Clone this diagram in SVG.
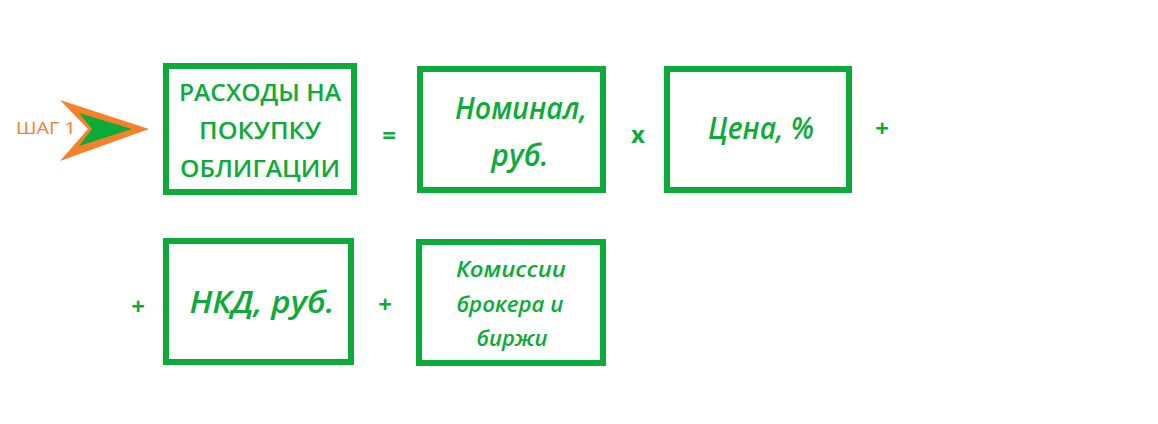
<svg xmlns="http://www.w3.org/2000/svg" width="1158" height="424" viewBox="0 0 1158 424">
<style>
.box{fill:#fff;stroke:#0DAB3A;stroke-width:6}
.t{font-family:"Open Sans","Noto Sans",sans-serif;fill:#0DAB3A;font-weight:600}
.cap{font-size:24px;text-anchor:middle}
.hw{font-style:italic;text-anchor:middle}
.op{font-family:"Open Sans","Noto Sans",sans-serif;fill:#0DAB3A;font-weight:700;font-size:24px;text-anchor:middle}
</style>
<rect width="1158" height="424" fill="#fff"/>
<g id="step">
<polygon points="60,100 149,129 60,161 88,129" fill="#F5812A"/>
<polygon points="79,113 132,129 79,146 92,129" fill="#0DAB3A"/>
<text x="46" y="134" font-family="Open Sans, Noto Sans, sans-serif" font-size="17" fill="#F5812A" text-anchor="middle" textLength="60" lengthAdjust="spacingAndGlyphs">ШАГ 1</text>
</g>
<g id="n1">
<rect class="box" x="166" y="66" width="188" height="126"/>
<text class="t cap" x="260" y="101" textLength="162" lengthAdjust="spacingAndGlyphs">РАСХОДЫ НА</text>
<text class="t cap" x="260" y="139" textLength="122" lengthAdjust="spacingAndGlyphs">ПОКУПКУ</text>
<text class="t cap" x="260" y="177" textLength="160" lengthAdjust="spacingAndGlyphs">ОБЛИГАЦИИ</text>
</g>
<g id="ops">
<text class="op" x="389" y="144">=</text>
<text class="op" x="638" y="143">x</text>
<text class="op" x="882" y="137">+</text>
<text class="op" x="138" y="315">+</text>
<text class="op" x="385" y="313">+</text>
</g>
<g id="n2">
<rect class="box" x="420" y="69" width="183" height="121"/>
<text class="t hw" x="521" y="119" font-size="30" textLength="132" lengthAdjust="spacingAndGlyphs">Номинал,</text>
<text class="t hw" x="520" y="166" font-size="30">руб.</text>
</g>
<g id="n3">
<rect class="box" x="667" y="69" width="182" height="121"/>
<text class="t hw" x="761" y="139" font-size="30" textLength="106" lengthAdjust="spacingAndGlyphs">Цена, %</text>
</g>
<g id="n4">
<rect class="box" x="166" y="241" width="185" height="121"/>
<text class="t hw" x="262" y="313" font-size="30" textLength="145" lengthAdjust="spacingAndGlyphs">НКД, руб.</text>
</g>
<g id="n5">
<rect class="box" x="419" y="242" width="184" height="121"/>
<text class="t hw" x="511" y="277" font-size="22" textLength="110" lengthAdjust="spacingAndGlyphs">Комиссии</text>
<text class="t hw" x="510" y="312" font-size="22" textLength="107" lengthAdjust="spacingAndGlyphs">брокера и</text>
<text class="t hw" x="512" y="346" font-size="22">биржи</text>
</g>
<g id="connectors"></g>
</svg>
